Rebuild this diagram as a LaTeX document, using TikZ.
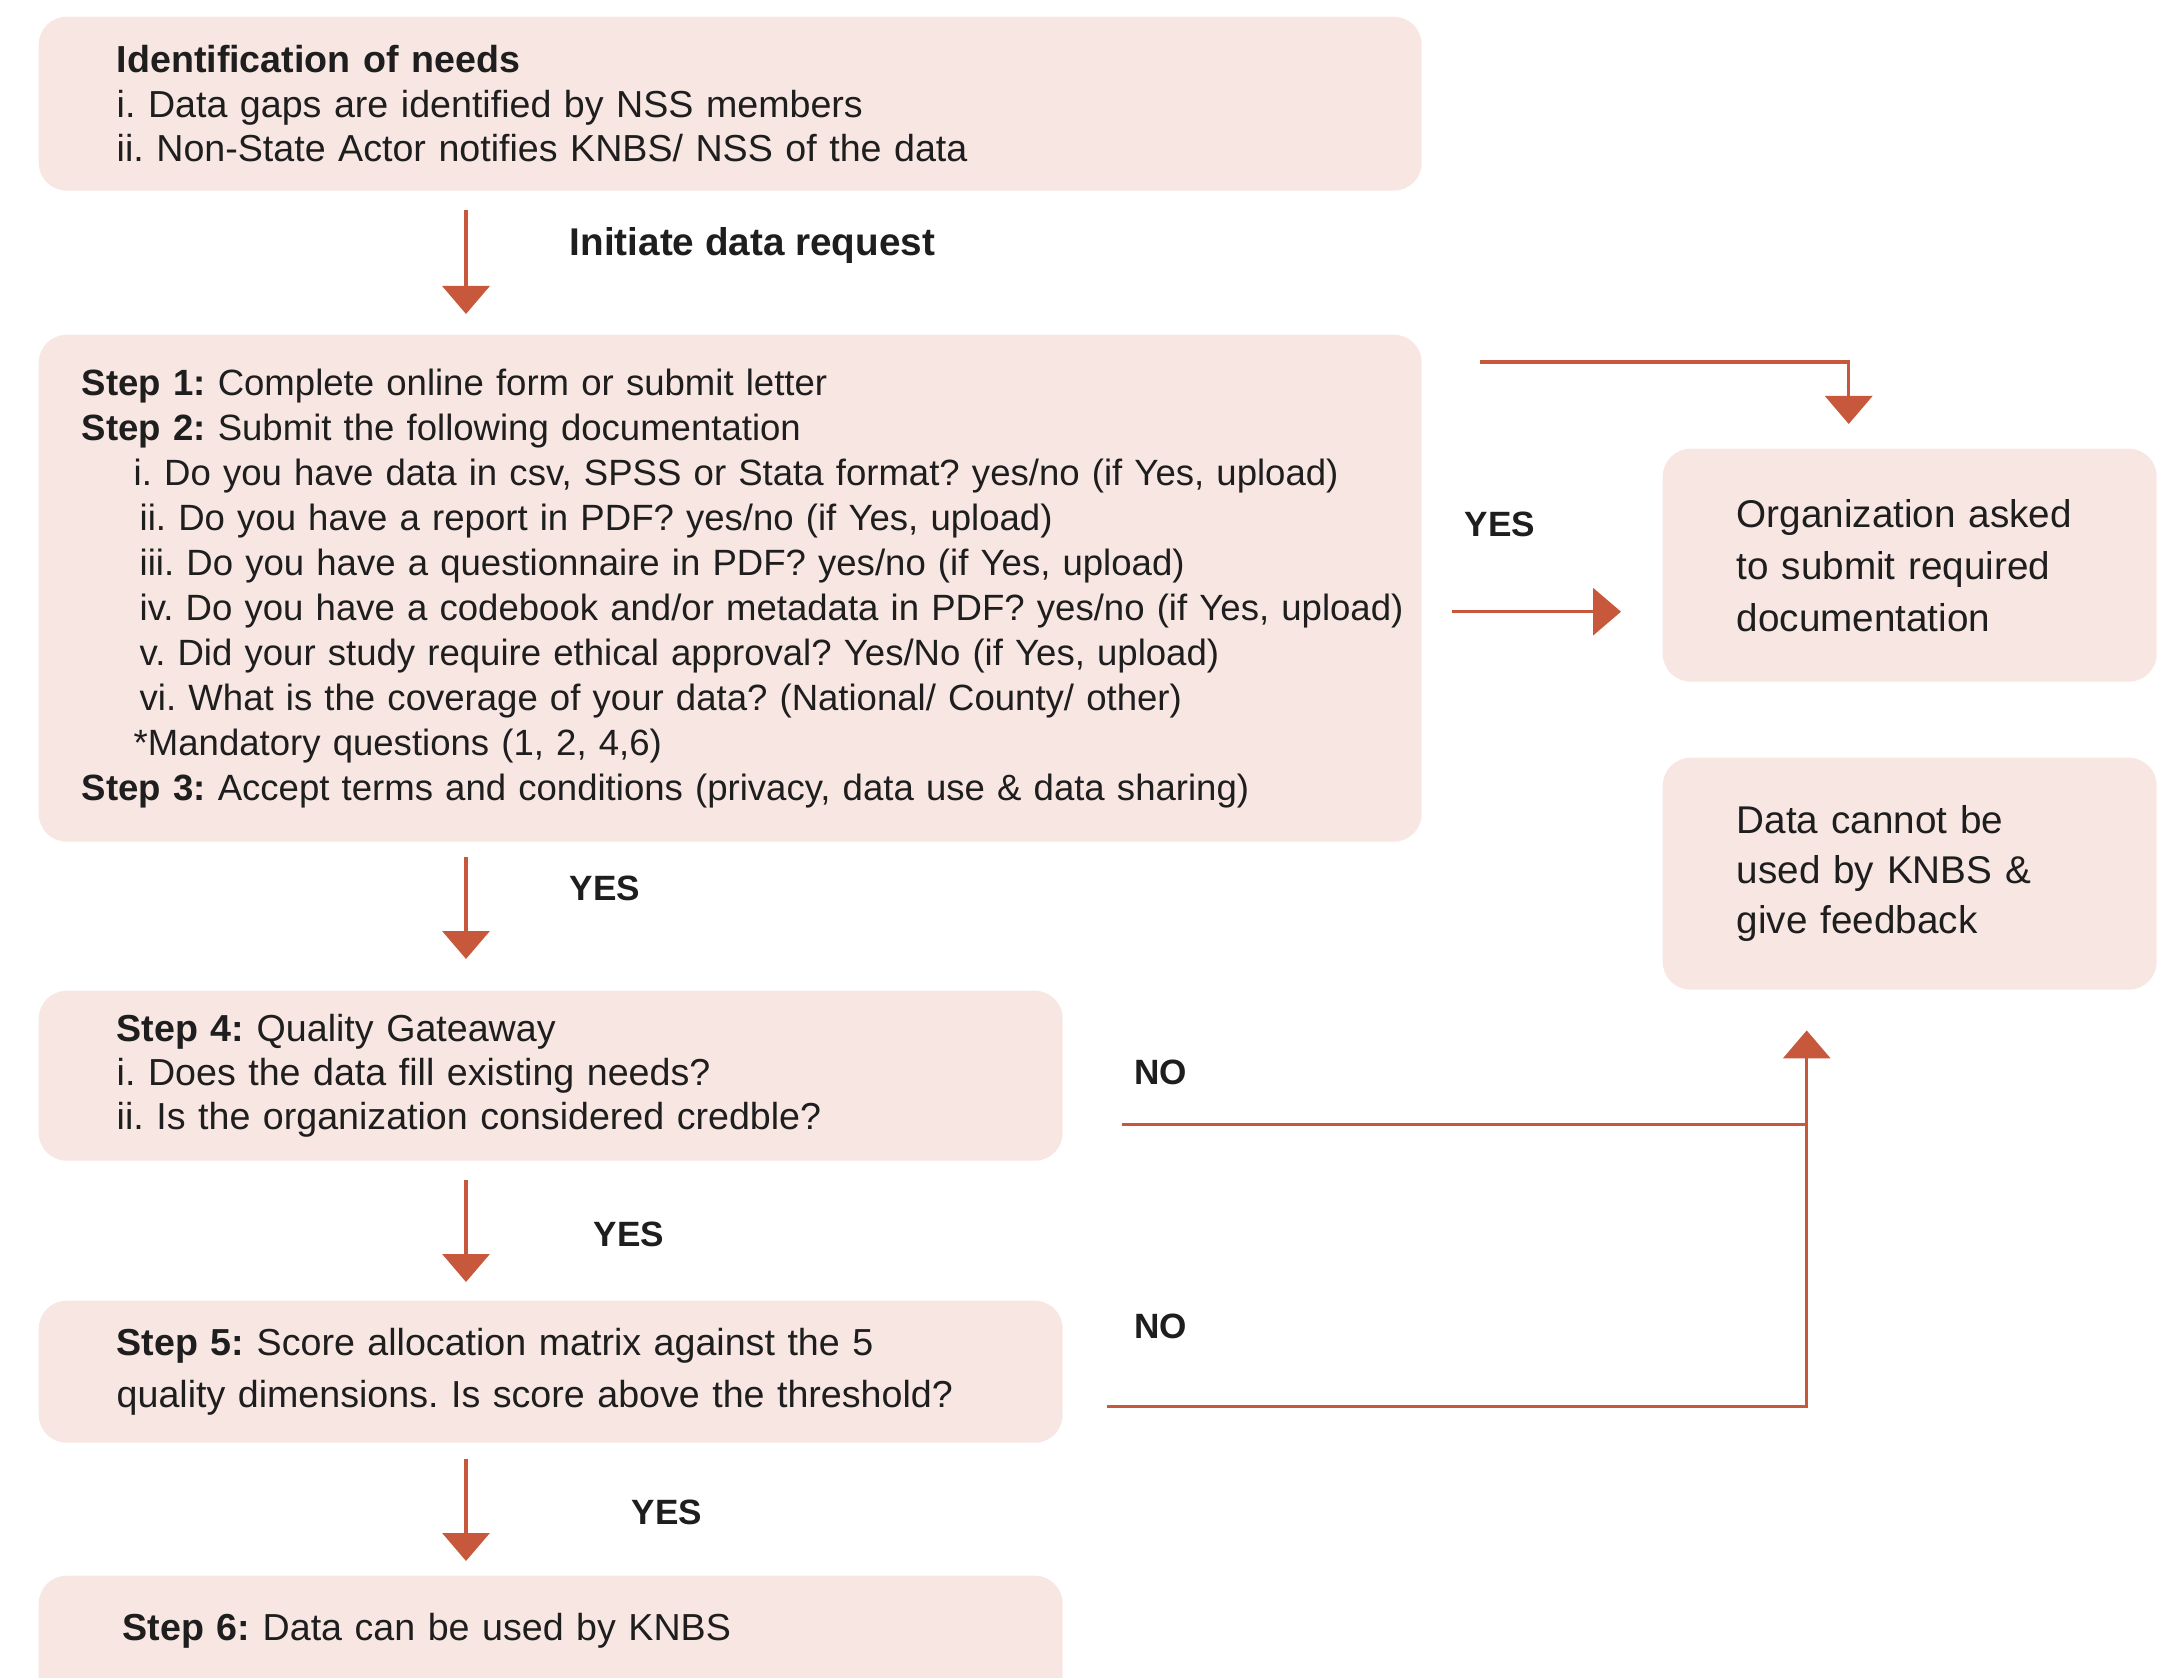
\documentclass[tikz,border=0pt]{standalone}
\usepackage{fontspec}
\setmainfont{Liberation Sans}
\usetikzlibrary{positioning}
\usetikzlibrary{arrows.meta}
\definecolor{boxpink}{RGB}{247,230,226}
\definecolor{rust}{RGB}{200,88,60}
\definecolor{ink}{RGB}{30,30,30}
\frenchspacing

\begin{document}
\begin{tikzpicture}[
  box/.style={rectangle, rounded corners=0.28cm, fill=boxpink, align=left, text=ink, anchor=north west, inner ysep=0pt, font=\fontsize{10.7}{12.6}\selectfont},
  link/.style={draw=rust, line width=1pt},
  arr/.style={link, -{Triangle[width=0.47cm,length=0.28cm]}},
  lbl/.style={font=\bfseries\fontsize{11}{13}\selectfont, text=ink, inner sep=0pt, anchor=west},
  yn/.style={lbl, font=\bfseries\fontsize{10}{12}\selectfont}
]
\useasboundingbox (0,0) rectangle (21.57,-16.78);

\node[box, inner xsep=0.78cm, text width=12.27cm, minimum height=1.74cm] (needs) at (0.38,-0.16) {\textbf{Identification of needs}\\
i. Data gaps are identified by NSS members\\
ii. Non-State Actor notifies KNBS/ NSS of the data};

\node[box, inner xsep=0.43cm, text width=12.97cm, minimum height=5.07cm, font=\fontsize{10.4}{12.8}\selectfont] (request) at (0.38,-3.34) {\textbf{Step 1:} Complete online form or submit letter\\
\textbf{Step 2:} Submit the following documentation\\
\hspace*{0.52cm}\mbox{i. Do you have data in csv, SPSS or Stata format? yes/no (if Yes, upload)}\\
\hspace*{0.58cm}ii. Do you have a report in PDF? yes/no (if Yes, upload)\\
\hspace*{0.58cm}iii. Do you have a questionnaire in PDF? yes/no (if Yes, upload)\\
\hspace*{0.58cm}\mbox{iv. Do you have a codebook and/or metadata in PDF? yes/no (if Yes, upload)}\\
\hspace*{0.58cm}v. Did your study require ethical approval? Yes/No (if Yes, upload)\\
\hspace*{0.58cm}vi. What is the coverage of your data? (National/ County/ other)\\
\hspace*{0.52cm}*Mandatory questions (1, 2, 4,6)\\
\textbf{Step 3:} Accept terms and conditions (privacy, data use \& data sharing)};

\node[box, inner xsep=0.74cm, text width=3.46cm, minimum height=2.33cm, font=\fontsize{11}{14.8}\selectfont] (orgask) at (16.62,-4.48) {Organization asked\\to submit required\\documentation};

\node[box, inner xsep=0.74cm, text width=3.46cm, minimum height=2.32cm, font=\fontsize{11}{14.3}\selectfont] (reject) at (16.62,-7.57) {Data cannot be\\used by KNBS \&\\give feedback};

\node[box, inner xsep=0.78cm, text width=8.68cm, minimum height=1.70cm] (gate) at (0.38,-9.90) {\textbf{Step 4:} Quality Gateaway\\
i. Does the data fill existing needs?\\
ii. Is the organization considered credble?};

\node[box, inner xsep=0.78cm, text width=8.68cm, minimum height=1.42cm, font=\fontsize{10.7}{15}\selectfont] (score) at (0.38,-13.00) {\textbf{Step 5:} Score allocation matrix against the 5\\
\mbox{quality dimensions. Is score above the threshold?}};

\node[box, inner xsep=0.84cm, text width=8.56cm, inner ysep=0.37cm, text height=0.28cm, text depth=0.6cm] (use) at (0.38,-15.75) {\textbf{Step 6:} Data can be used by KNBS};

\coordinate (spine) at (4.66,0);
\draw[arr, shorten <=0.19cm, shorten >=0.2cm] (needs.south -| spine) -- (request.north -| spine) node[lbl, pos=0.382, xshift=1.02cm] {Initiate data request};
\draw[arr, shorten <=0.15cm, shorten >=0.31cm] (request.south -| spine) -- (gate.north -| spine) node[yn, pos=0.309, xshift=1.02cm] {YES};
\draw[arr, shorten <=0.19cm, shorten >=0.18cm] (gate.south -| spine) -- (score.north -| spine) node[yn, pos=0.529, xshift=1.26cm] {YES};
\draw[arr, shorten <=0.16cm, shorten >=0.14cm] (score.south -| spine) -- (use.north -| spine) node[yn, pos=0.526, xshift=1.64cm] {YES};

\draw[arr] ([xshift=0.58cm,yshift=-0.28cm]request.north east) -| ([xshift=-0.61cm,yshift=0.24cm]orgask.north);
\coordinate (docs) at ([xshift=0.3cm,yshift=-0.235cm]request.east);
\draw[arr, shorten >=0.41cm] (docs) -- (docs -| orgask.west) node[yn, pos=0.05, yshift=0.87cm] {YES};

\coordinate (merge) at ([xshift=-1.03cm,yshift=-0.40cm]reject.south);
\coordinate (fail1) at ([xshift=0.59cm,yshift=-0.49cm]gate.east);
\coordinate (fail2) at ([xshift=0.44cm,yshift=-0.35cm]score.east);
\draw[link] (fail1) -- (fail1 -| merge) node[yn, pos=0, xshift=0.1cm, yshift=0.52cm] {NO};
\draw[arr] (fail2) -| (merge) node[yn, pos=0, xshift=0.25cm, yshift=0.8cm] {NO};
\end{tikzpicture}
\end{document}
